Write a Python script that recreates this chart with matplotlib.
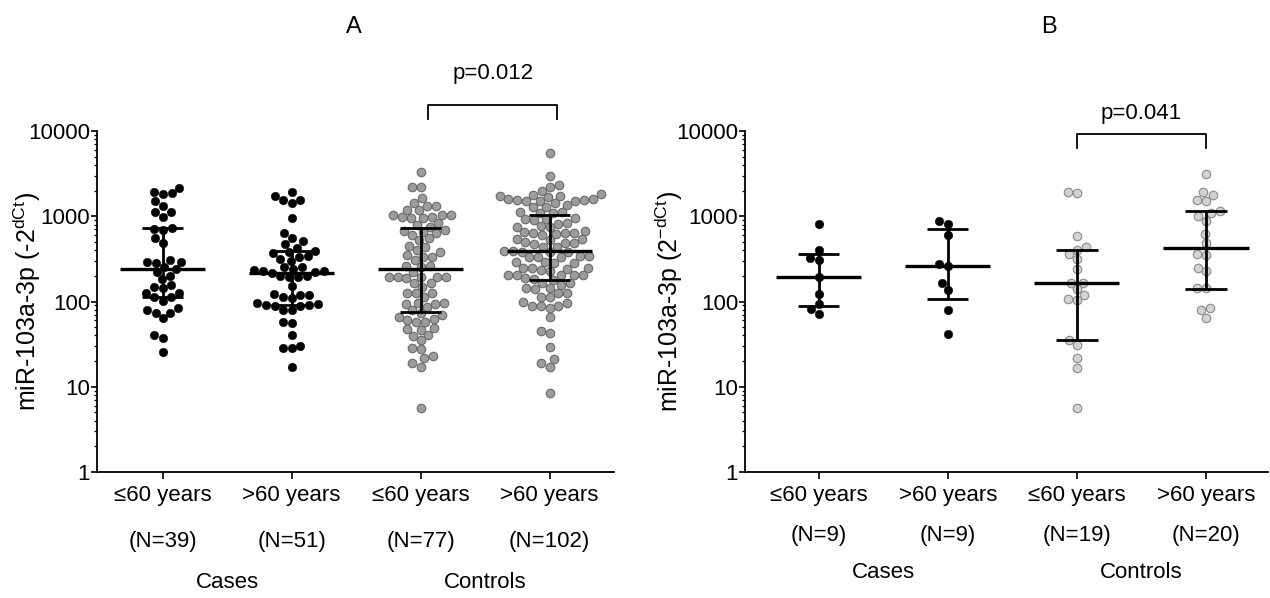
import numpy as np
import matplotlib
matplotlib.use('Agg')
import matplotlib.pyplot as plt
from matplotlib import transforms
from matplotlib.lines import Line2D

plt.rcParams['font.family'] = ['Liberation Sans', 'DejaVu Sans']

# ---- data ----
cats = ['\u226460 years', '>60 years', '\u226460 years', '>60 years']
groups = ['Cases', 'Controls']

a_cases_le60 = [2124, 1941, 1857, 1808, 1510, 1319, 1111, 1111, 989, 721, 703, 690, 551, 490,
                307, 293, 285, 293, 256, 239, 224, 199, 182, 156, 147, 143, 125, 125, 112, 112,
                102, 83, 74, 74, 80, 64, 40.5, 37, 25.4]
a_cases_gt60 = [1941, 1730, 1552, 1552, 1419, 962, 642, 561, 517, 472, 428, 394, 384, 367, 342,
                330, 313, 302, 256, 252, 239, 230, 228, 224, 214, 199, 195, 192, 152, 122, 119,
                119, 114, 109, 97, 91, 91, 93.5, 88.5, 88.5, 79.5, 79.5, 58, 56.4, 40.5, 28.2,
                28.2, 30.1, 16.9, 199, 234]
a_ctrl_le60 = [3334, 2184, 2184, 1622, 1443, 1319, 1319, 1184, 1184, 1034, 1034, 1034, 971, 971,
               945, 945, 826, 789, 755, 678, 690, 659, 631, 603, 526, 551, 452, 440, 402, 384,
               351, 336, 336, 307, 261, 261, 256, 224, 195, 195, 195, 195, 195, 187, 163, 163,
               149, 127, 127, 125, 114, 95.2, 93.5, 93.5, 96.9, 87, 79.4, 72.6, 69.5, 66.4,
               60.7, 61.8, 57, 58, 48.4, 47.2, 46.3, 39.4, 40.5, 35.3, 28.2, 27.5, 23, 21.5,
               19.1, 17.2, 5.6]
a_ctrl_gt60 = [5566, 2966, 2326, 2184, 1996, 1800, 1750, 1700, 1780, 1720, 1600, 1580, 1550,
               1520, 1500, 1560, 1530, 1350, 1300, 1280, 1420, 1120, 1090, 1090, 1110, 920, 950,
               930, 900, 841, 811, 769, 755, 741, 659, 642, 678, 619, 631, 603, 631, 526, 536,
               536, 481, 490, 503, 472, 440, 440, 390, 385, 380, 388, 378, 336, 335, 342, 330,
               338, 290, 282, 288, 280, 245, 243, 250, 248, 232, 228, 205, 207, 203, 206, 202,
               187, 179, 183, 166, 163, 156, 143, 139, 143, 125, 125, 114, 112, 97.8, 95.2,
               88.6, 88.6, 88.6, 84.7, 66.4, 45.1, 42.3, 29.5, 21, 18.8, 16.9, 8.5]

b_cases_le60 = [819, 407, 325, 303, 193, 124, 94.4, 81, 70.8]
b_cases_gt60 = [872, 811, 598, 277, 260, 166, 137, 78.8, 41.3]
b_ctrl_le60 = [1870, 1920, 593, 437, 407, 356, 311, 238, 166, 166, 139, 119, 106, 104, 35.2, 31,
               21.5, 16.4, 5.6]
b_ctrl_gt60 = [3117, 1920, 1787, 1521, 1535, 1141, 1091, 998, 888, 620, 487, 356, 349, 248, 227,
               145, 143, 84.7, 79.6, 64.7]

a_n = ['(N=39)', '(N=51)', '(N=77)', '(N=102)']
b_n = ['(N=9)', '(N=9)', '(N=19)', '(N=20)']

# median and interquartile range bars
a_med = [239, 214, 238, 395]
a_q1 = [112, 91, 76, 179]
a_q3 = [721, 394, 721, 1034]
b_med = [193, 260, 166, 426]
b_q1 = [88.6, 108, 35.2, 141]
b_q3 = [365, 710, 407, 1162]

a_p = 'p=0.012'
b_p = 'p=0.041'


def swarm(vals, diam, xscale, yscale):
    # simple greedy beeswarm in pixel space
    y = np.log10(np.asarray(vals, float)) * yscale
    xs = np.zeros(len(y))
    placed = []
    for i in np.argsort(y):
        cands = [0.0]
        for px, py in placed:
            dy = y[i] - py
            if abs(dy) < diam:
                dx = np.sqrt(diam ** 2 - dy ** 2)
                cands += [px - dx, px + dx]
        cands.sort(key=abs)
        for c in cands:
            if all((c - px) ** 2 + (y[i] - py) ** 2 >= diam ** 2 - 1e-6 for px, py in placed):
                xs[i] = c
                break
        placed.append((xs[i], y[i]))
    return xs / xscale


fig = plt.figure(figsize=(12.7, 5.98), dpi=100)
axA = fig.add_axes([97 / 1270, 126 / 598, 517 / 1270, 341 / 598])
axB = fig.add_axes([745 / 1270, 126 / 598, 523 / 1270, 341 / 598])

panels = [
    (axA, [a_cases_le60, a_cases_gt60, a_ctrl_le60, a_ctrl_gt60], a_med, a_q1, a_q3,
     (-0.51, 3.5), '#9c9c9c', '#6a6a6a', 'miR-103a-3p (-2$^{\\mathregular{dCt}}$)', -0.105),
    (axB, [b_cases_le60, b_cases_gt60, b_ctrl_le60, b_ctrl_gt60], b_med, b_q1, b_q3,
     (-0.57, 3.48), '#d2d2d2', '#8a8a8a', 'miR-103a-3p (2$^{\\mathregular{-dCt}}$)', -0.115),
]

for ax, data, med, q1, q3, xl, cfill, cedge, ylab, labx in panels:
    ax.set_yscale('log')
    ax.set_ylim(1, 10000)
    ax.set_xlim(*xl)
    wpx = ax.get_position().width * 1270
    xscale = wpx / (xl[1] - xl[0])
    yscale = 341 / 4
    for i, vals in enumerate(data):
        off = swarm(vals, 9.0, xscale, yscale)
        if i < 2:
            ax.scatter(i + off, vals, s=38, c='black', edgecolors='black', linewidths=0.3, zorder=2)
        else:
            ax.scatter(i + off, vals, s=38, c=cfill, edgecolors=cedge, linewidths=0.8, zorder=2)
        ax.hlines(med[i], i - 0.33, i + 0.33, colors='black', lw=2.4, zorder=3)
        ax.vlines(i, q1[i], q3[i], colors='black', lw=2.0, zorder=3)
        ax.hlines([q1[i], q3[i]], i - 0.16, i + 0.16, colors='black', lw=2.0, zorder=3)

    for s in ['top', 'right']:
        ax.spines[s].set_visible(False)
    for s in ['left', 'bottom']:
        ax.spines[s].set_linewidth(1.3)
    ax.set_yticks([1, 10, 100, 1000, 10000])
    ax.set_yticklabels(['1', '10', '100', '1000', '10000'], fontsize=16)
    ax.tick_params(axis='y', which='major', length=4, width=1.2, pad=1)
    ax.tick_params(axis='y', which='minor', length=2.5, width=0.9)
    ax.set_xticks(range(4))
    ax.set_xticklabels([])
    ax.tick_params(axis='x', length=5, width=1.2)
    ax.set_ylabel(ylab, fontsize=18)
    ax.yaxis.set_label_coords(labx, 0.5)

    tr = transforms.blended_transform_factory(ax.transData, fig.transFigure)
    for i in range(4):
        ax.text(i, 1 - 495 / 598, cats[i], transform=tr, ha='center', va='center', fontsize=16)

trA = transforms.blended_transform_factory(axA.transData, fig.transFigure)
trB = transforms.blended_transform_factory(axB.transData, fig.transFigure)
for i in range(4):
    axA.text(i, 1 - 541 / 598, a_n[i], transform=trA, ha='center', va='center', fontsize=16)
    axB.text(i, 1 - 536 / 598, b_n[i], transform=trB, ha='center', va='center', fontsize=16)
axA.text(0.5, 1 - 582 / 598, groups[0], transform=trA, ha='center', va='center', fontsize=16)
axA.text(2.5, 1 - 582 / 598, groups[1], transform=trA, ha='center', va='center', fontsize=16)
axB.text(0.5, 1 - 573 / 598, groups[0], transform=trB, ha='center', va='center', fontsize=16)
axB.text(2.5, 1 - 573 / 598, groups[1], transform=trB, ha='center', va='center', fontsize=16)

# significance brackets
axA.add_line(Line2D([2.06, 2.06, 3.06, 3.06], [1 - 119 / 598, 1 - 105 / 598, 1 - 105 / 598, 1 - 119 / 598],
                    transform=trA, color='black', lw=1.3, clip_on=False))
axA.text(2.56, 1 - 73 / 598, a_p, transform=trA, ha='center', va='center', fontsize=16)
axB.add_line(Line2D([2, 2, 3, 3], [1 - 148 / 598, 1 - 134 / 598, 1 - 134 / 598, 1 - 148 / 598],
                    transform=trB, color='black', lw=1.3, clip_on=False))
axB.text(2.5, 1 - 113 / 598, b_p, transform=trB, ha='center', va='center', fontsize=16)

fig.text(354 / 1270, 1 - 27 / 598, 'A', ha='center', va='center', fontsize=17)
fig.text(1049 / 1270, 1 - 27 / 598, 'B', ha='center', va='center', fontsize=17)

fig.savefig('out.png', dpi=100)
